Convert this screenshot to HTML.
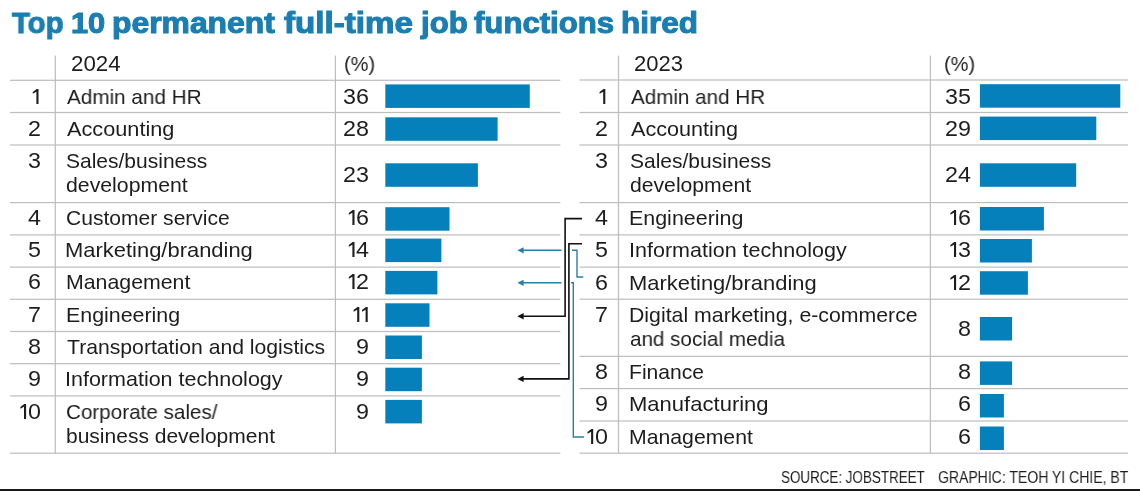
<!DOCTYPE html>
<html><head><meta charset="utf-8"><title>Top 10 permanent full-time job functions hired</title><style>html,body{margin:0;padding:0}body{width:1140px;height:491px;position:relative;overflow:hidden;background:#fff;font-family:"Liberation Sans", sans-serif}
.t{position:absolute;white-space:pre;line-height:1;transform-origin:0 0;will-change:transform}
.h{position:absolute;height:1px;background:#bdbdbd}.v{position:absolute;width:1px;background:#bdbdbd}
.b{position:absolute;height:23.5px;background:#0580ba}
.bot{position:absolute;left:0;top:489px;width:1140px;height:2px;background:#1a1a1a}</style></head><body>

<svg width="1140" height="491" style="position:absolute;left:0;top:0" fill="none">
<rect x="10" y="79.7" width="550.3" height="1.2" fill="#bdbdbd"/>
<rect x="10" y="111.9" width="550.3" height="1.2" fill="#bdbdbd"/>
<rect x="10" y="144.4" width="550.3" height="1.2" fill="#bdbdbd"/>
<rect x="10" y="202.0" width="550.3" height="1.2" fill="#bdbdbd"/>
<rect x="10" y="234.3" width="550.3" height="1.2" fill="#bdbdbd"/>
<rect x="10" y="266.5" width="550.3" height="1.2" fill="#bdbdbd"/>
<rect x="10" y="298.7" width="550.3" height="1.2" fill="#bdbdbd"/>
<rect x="10" y="330.9" width="550.3" height="1.2" fill="#bdbdbd"/>
<rect x="10" y="363.1" width="550.3" height="1.2" fill="#bdbdbd"/>
<rect x="10" y="395.3" width="550.3" height="1.2" fill="#bdbdbd"/>
<rect x="10" y="452.6" width="550.3" height="1.2" fill="#bdbdbd"/>
<rect x="579.5" y="79.4" width="548.5" height="1.2" fill="#bdbdbd"/>
<rect x="579.5" y="111.9" width="548.5" height="1.2" fill="#bdbdbd"/>
<rect x="579.5" y="144.4" width="548.5" height="1.2" fill="#bdbdbd"/>
<rect x="579.5" y="202.0" width="548.5" height="1.2" fill="#bdbdbd"/>
<rect x="579.5" y="234.3" width="548.5" height="1.2" fill="#bdbdbd"/>
<rect x="579.5" y="266.5" width="548.5" height="1.2" fill="#bdbdbd"/>
<rect x="579.5" y="298.6" width="548.5" height="1.2" fill="#bdbdbd"/>
<rect x="579.5" y="355.8" width="548.5" height="1.2" fill="#bdbdbd"/>
<rect x="579.5" y="388.0" width="548.5" height="1.2" fill="#bdbdbd"/>
<rect x="579.5" y="420.4" width="548.5" height="1.2" fill="#bdbdbd"/>
<rect x="579.5" y="452.6" width="548.5" height="1.2" fill="#bdbdbd"/>
<rect x="54.7" y="55.6" width="1.2" height="397.8" fill="#bdbdbd"/>
<rect x="334.8" y="55.6" width="1.2" height="397.8" fill="#bdbdbd"/>
<rect x="617.9" y="55.6" width="1.2" height="397.8" fill="#bdbdbd"/>
<rect x="929.8" y="55.6" width="1.2" height="397.8" fill="#bdbdbd"/>
<rect x="385.3" y="84.4" width="144.5" height="23.5" fill="#0580ba"/>
<rect x="385.3" y="117.3" width="112.3" height="23.5" fill="#0580ba"/>
<rect x="385.3" y="163.3" width="92.6" height="23.5" fill="#0580ba"/>
<rect x="385.3" y="207.2" width="64.2" height="23.5" fill="#0580ba"/>
<rect x="385.3" y="238.6" width="56.1" height="23.5" fill="#0580ba"/>
<rect x="385.3" y="270.9" width="52.1" height="23.5" fill="#0580ba"/>
<rect x="385.3" y="303.3" width="44.2" height="23.5" fill="#0580ba"/>
<rect x="385.3" y="335.5" width="36.6" height="23.5" fill="#0580ba"/>
<rect x="385.3" y="367.7" width="36.6" height="23.5" fill="#0580ba"/>
<rect x="385.3" y="399.9" width="36.6" height="23.5" fill="#0580ba"/>
<rect x="979.9" y="84.2" width="140.4" height="23.5" fill="#0580ba"/>
<rect x="979.9" y="116.6" width="116.4" height="23.5" fill="#0580ba"/>
<rect x="979.9" y="163.3" width="96.3" height="23.5" fill="#0580ba"/>
<rect x="979.9" y="207.0" width="64.0" height="23.5" fill="#0580ba"/>
<rect x="979.9" y="239.0" width="52.0" height="23.5" fill="#0580ba"/>
<rect x="979.9" y="271.2" width="48.0" height="23.5" fill="#0580ba"/>
<rect x="979.9" y="317.0" width="32.2" height="23.5" fill="#0580ba"/>
<rect x="979.9" y="361.4" width="32.2" height="23.5" fill="#0580ba"/>
<rect x="979.9" y="394.0" width="24.0" height="23.5" fill="#0580ba"/>
<rect x="979.9" y="426.5" width="24.0" height="23.5" fill="#0580ba"/>
<path transform="translate(32.8,89)" d="M0,2.9L3.9,0H5.7V15H3.6V2.7L0,4.7Z" fill="#1d1d1d"/>
<path transform="translate(348.8,210)" d="M0,2.9L3.9,0H5.7V15H3.6V2.7L0,4.7Z" fill="#1d1d1d"/>
<path transform="translate(348.8,242)" d="M0,2.9L3.9,0H5.7V15H3.6V2.7L0,4.7Z" fill="#1d1d1d"/>
<path transform="translate(348.8,274)" d="M0,2.9L3.9,0H5.7V15H3.6V2.7L0,4.7Z" fill="#1d1d1d"/>
<path transform="translate(353.6,307)" d="M0,2.9L3.9,0H5.7V15H3.6V2.7L0,4.7Z" fill="#1d1d1d"/>
<path transform="translate(362.0,307)" d="M0,2.9L3.9,0H5.7V15H3.6V2.7L0,4.7Z" fill="#1d1d1d"/>
<path transform="translate(20.4,404)" d="M0,2.9L3.9,0H5.7V15H3.6V2.7L0,4.7Z" fill="#1d1d1d"/>
<path transform="translate(599.6,89)" d="M0,2.9L3.9,0H5.7V15H3.6V2.7L0,4.7Z" fill="#1d1d1d"/>
<path transform="translate(950.4,210)" d="M0,2.9L3.9,0H5.7V15H3.6V2.7L0,4.7Z" fill="#1d1d1d"/>
<path transform="translate(950.4,242)" d="M0,2.9L3.9,0H5.7V15H3.6V2.7L0,4.7Z" fill="#1d1d1d"/>
<path transform="translate(950.4,275)" d="M0,2.9L3.9,0H5.7V15H3.6V2.7L0,4.7Z" fill="#1d1d1d"/>
<path transform="translate(587.5,429)" d="M0,2.9L3.9,0H5.7V15H3.6V2.7L0,4.7Z" fill="#1d1d1d"/>
<g stroke="#111" stroke-width="1.6">
<path d="M582 218.6H565.1V316.2H522"/>
<path d="M582 243.8H568.9V378.9H522"/>
</g>
<g fill="#111"><path d="M517.4 316.2L523.6 313V319.4Z"/><path d="M517.4 378.9L523.6 375.7V382.1Z"/></g>
<g stroke="#2580aa" stroke-width="1.4">
<path d="M583.3 277H577V250.3H572"/>
<path d="M561.4 250.3H522"/>
<path d="M584 437H573.3V282.8H571"/>
<path d="M561.4 282.8H522"/>
</g>
<g fill="#2580aa"><path d="M517.4 250.3L523.6 247.2V253.4Z"/><path d="M517.4 282.8L523.6 279.7V285.9Z"/></g>
</svg>
<span class="t" style="left:11.74px;top:8.00px;font-size:30px;font-weight:bold;color:#1a7eb2;-webkit-text-stroke:1.1px #1a7eb2;transform:scaleX(0.9761)">Top</span>
<span class="t" style="left:70.92px;top:8.00px;font-size:30px;font-weight:bold;color:#1a7eb2;-webkit-text-stroke:1.1px #1a7eb2;transform:scaleX(1.0254)">10</span>
<span class="t" style="left:112.41px;top:8.00px;font-size:30px;font-weight:bold;color:#1a7eb2;-webkit-text-stroke:1.1px #1a7eb2;transform:scaleX(1.0618)">permanent</span>
<span class="t" style="left:284.20px;top:8.00px;font-size:30px;font-weight:bold;color:#1a7eb2;-webkit-text-stroke:1.1px #1a7eb2;transform:scaleX(1.1045)">full-time</span>
<span class="t" style="left:420.84px;top:8.00px;font-size:30px;font-weight:bold;color:#1a7eb2;-webkit-text-stroke:1.1px #1a7eb2;transform:scaleX(1.0387)">job</span>
<span class="t" style="left:473.90px;top:8.00px;font-size:30px;font-weight:bold;color:#1a7eb2;-webkit-text-stroke:1.1px #1a7eb2;transform:scaleX(1.0376)">functions</span>
<span class="t" style="left:620.73px;top:8.00px;font-size:30px;font-weight:bold;color:#1a7eb2;-webkit-text-stroke:1.1px #1a7eb2;transform:scaleX(1.0482)">hired</span>
<span class="t" style="left:70.98px;top:53.00px;font-size:22px;font-weight:normal;color:#1d1d1d;transform:scaleX(1.0159)">2024</span>
<span class="t" style="left:343.51px;top:53.00px;font-size:21px;font-weight:normal;color:#1d1d1d;transform:scaleX(0.9500)">(%)</span>
<span class="t" style="left:633.50px;top:53.00px;font-size:22px;font-weight:normal;color:#1d1d1d;transform:scaleX(1.0000)">2023</span>
<span class="t" style="left:944.01px;top:53.00px;font-size:21px;font-weight:normal;color:#1d1d1d;transform:scaleX(0.9500)">(%)</span>
<span class="t" style="left:67.30px;top:86.00px;font-size:21px;font-weight:normal;color:#1d1d1d;transform:scaleX(0.9852)">Admin and HR</span>
<span class="t" style="left:343.29px;top:86.00px;font-size:22px;font-weight:normal;color:#1d1d1d;transform:scaleX(1.0600)">36</span>
<span class="t" style="left:28.07px;top:118.00px;font-size:22px;font-weight:normal;color:#1d1d1d;transform:scaleX(1.0600)">2</span>
<span class="t" style="left:67.30px;top:118.00px;font-size:21px;font-weight:normal;color:#1d1d1d;transform:scaleX(1.0341)">Accounting</span>
<span class="t" style="left:343.29px;top:118.00px;font-size:22px;font-weight:normal;color:#1d1d1d;transform:scaleX(1.0600)">28</span>
<span class="t" style="left:28.07px;top:150.00px;font-size:22px;font-weight:normal;color:#1d1d1d;transform:scaleX(1.0600)">3</span>
<span class="t" style="left:66.30px;top:150.00px;font-size:21px;font-weight:normal;color:#1d1d1d;transform:scaleX(1.0000)">Sales/business</span>
<span class="t" style="left:66.29px;top:174.00px;font-size:21px;font-weight:normal;color:#1d1d1d;transform:scaleX(1.0126)">development</span>
<span class="t" style="left:343.29px;top:164.00px;font-size:22px;font-weight:normal;color:#1d1d1d;transform:scaleX(1.0600)">23</span>
<span class="t" style="left:27.81px;top:207.00px;font-size:22px;font-weight:normal;color:#1d1d1d;transform:scaleX(1.0600)">4</span>
<span class="t" style="left:66.30px;top:207.00px;font-size:21px;font-weight:normal;color:#1d1d1d;transform:scaleX(1.0025)">Customer service</span>
<span class="t" style="left:356.27px;top:207.00px;font-size:22px;font-weight:normal;color:#1d1d1d;transform:scaleX(1.0600)">6</span>
<span class="t" style="left:28.07px;top:239.00px;font-size:22px;font-weight:normal;color:#1d1d1d;transform:scaleX(1.0600)">5</span>
<span class="t" style="left:65.47px;top:239.00px;font-size:21px;font-weight:normal;color:#1d1d1d;transform:scaleX(1.0448)">Marketing/branding</span>
<span class="t" style="left:356.01px;top:239.00px;font-size:22px;font-weight:normal;color:#1d1d1d;transform:scaleX(1.0600)">4</span>
<span class="t" style="left:28.07px;top:271.00px;font-size:22px;font-weight:normal;color:#1d1d1d;transform:scaleX(1.0600)">6</span>
<span class="t" style="left:65.52px;top:271.00px;font-size:21px;font-weight:normal;color:#1d1d1d;transform:scaleX(1.0145)">Management</span>
<span class="t" style="left:356.27px;top:271.00px;font-size:22px;font-weight:normal;color:#1d1d1d;transform:scaleX(1.0600)">2</span>
<span class="t" style="left:28.07px;top:304.00px;font-size:22px;font-weight:normal;color:#1d1d1d;transform:scaleX(1.0600)">7</span>
<span class="t" style="left:65.52px;top:304.00px;font-size:21px;font-weight:normal;color:#1d1d1d;transform:scaleX(1.0183)">Engineering</span>
<span class="t" style="left:28.07px;top:336.00px;font-size:22px;font-weight:normal;color:#1d1d1d;transform:scaleX(1.0600)">8</span>
<span class="t" style="left:66.80px;top:336.00px;font-size:21px;font-weight:normal;color:#1d1d1d;transform:scaleX(1.0084)">Transportation and logistics</span>
<span class="t" style="left:356.27px;top:336.00px;font-size:22px;font-weight:normal;color:#1d1d1d;transform:scaleX(1.0600)">9</span>
<span class="t" style="left:28.07px;top:368.00px;font-size:22px;font-weight:normal;color:#1d1d1d;transform:scaleX(1.0600)">9</span>
<span class="t" style="left:65.25px;top:368.00px;font-size:21px;font-weight:normal;color:#1d1d1d;transform:scaleX(1.0240)">Information technology</span>
<span class="t" style="left:356.27px;top:368.00px;font-size:22px;font-weight:normal;color:#1d1d1d;transform:scaleX(1.0600)">9</span>
<span class="t" style="left:27.87px;top:401.00px;font-size:22px;font-weight:normal;color:#1d1d1d;transform:scaleX(1.0600)">0</span>
<span class="t" style="left:66.32px;top:401.00px;font-size:21px;font-weight:normal;color:#1d1d1d;transform:scaleX(0.9830)">Corporate sales/</span>
<span class="t" style="left:66.05px;top:425.00px;font-size:21px;font-weight:normal;color:#1d1d1d;transform:scaleX(0.9995)">business development</span>
<span class="t" style="left:356.27px;top:401.00px;font-size:22px;font-weight:normal;color:#1d1d1d;transform:scaleX(1.0600)">9</span>
<span class="t" style="left:631.20px;top:86.00px;font-size:21px;font-weight:normal;color:#1d1d1d;transform:scaleX(0.9815)">Admin and HR</span>
<span class="t" style="left:944.89px;top:86.00px;font-size:22px;font-weight:normal;color:#1d1d1d;transform:scaleX(1.0600)">35</span>
<span class="t" style="left:595.08px;top:118.00px;font-size:22px;font-weight:normal;color:#1d1d1d;transform:scaleX(1.0600)">2</span>
<span class="t" style="left:631.20px;top:118.00px;font-size:21px;font-weight:normal;color:#1d1d1d;transform:scaleX(1.0293)">Accounting</span>
<span class="t" style="left:944.89px;top:118.00px;font-size:22px;font-weight:normal;color:#1d1d1d;transform:scaleX(1.0600)">29</span>
<span class="t" style="left:595.08px;top:150.00px;font-size:22px;font-weight:normal;color:#1d1d1d;transform:scaleX(1.0600)">3</span>
<span class="t" style="left:630.20px;top:150.00px;font-size:21px;font-weight:normal;color:#1d1d1d;transform:scaleX(0.9978)">Sales/business</span>
<span class="t" style="left:630.19px;top:174.00px;font-size:21px;font-weight:normal;color:#1d1d1d;transform:scaleX(1.0076)">development</span>
<span class="t" style="left:944.62px;top:164.00px;font-size:22px;font-weight:normal;color:#1d1d1d;transform:scaleX(1.0600)">24</span>
<span class="t" style="left:594.81px;top:207.00px;font-size:22px;font-weight:normal;color:#1d1d1d;transform:scaleX(1.0600)">4</span>
<span class="t" style="left:629.41px;top:207.00px;font-size:21px;font-weight:normal;color:#1d1d1d;transform:scaleX(1.0202)">Engineering</span>
<span class="t" style="left:957.88px;top:207.00px;font-size:22px;font-weight:normal;color:#1d1d1d;transform:scaleX(1.0600)">6</span>
<span class="t" style="left:595.08px;top:239.00px;font-size:22px;font-weight:normal;color:#1d1d1d;transform:scaleX(1.0600)">5</span>
<span class="t" style="left:629.15px;top:239.00px;font-size:21px;font-weight:normal;color:#1d1d1d;transform:scaleX(1.0245)">Information technology</span>
<span class="t" style="left:957.88px;top:239.00px;font-size:22px;font-weight:normal;color:#1d1d1d;transform:scaleX(1.0600)">3</span>
<span class="t" style="left:595.08px;top:272.00px;font-size:22px;font-weight:normal;color:#1d1d1d;transform:scaleX(1.0600)">6</span>
<span class="t" style="left:629.37px;top:272.00px;font-size:21px;font-weight:normal;color:#1d1d1d;transform:scaleX(1.0442)">Marketing/branding</span>
<span class="t" style="left:957.88px;top:272.00px;font-size:22px;font-weight:normal;color:#1d1d1d;transform:scaleX(1.0600)">2</span>
<span class="t" style="left:595.08px;top:304.00px;font-size:22px;font-weight:normal;color:#1d1d1d;transform:scaleX(1.0600)">7</span>
<span class="t" style="left:629.43px;top:304.00px;font-size:21px;font-weight:normal;color:#1d1d1d;transform:scaleX(1.0138)">Digital marketing, e-commerce</span>
<span class="t" style="left:630.22px;top:328.00px;font-size:21px;font-weight:normal;color:#1d1d1d;transform:scaleX(0.9834)">and social media</span>
<span class="t" style="left:957.88px;top:318.00px;font-size:22px;font-weight:normal;color:#1d1d1d;transform:scaleX(1.0600)">8</span>
<span class="t" style="left:595.08px;top:361.00px;font-size:22px;font-weight:normal;color:#1d1d1d;transform:scaleX(1.0600)">8</span>
<span class="t" style="left:629.44px;top:361.00px;font-size:21px;font-weight:normal;color:#1d1d1d;transform:scaleX(1.0042)">Finance</span>
<span class="t" style="left:957.88px;top:361.00px;font-size:22px;font-weight:normal;color:#1d1d1d;transform:scaleX(1.0600)">8</span>
<span class="t" style="left:595.08px;top:393.00px;font-size:22px;font-weight:normal;color:#1d1d1d;transform:scaleX(1.0600)">9</span>
<span class="t" style="left:629.36px;top:393.00px;font-size:21px;font-weight:normal;color:#1d1d1d;transform:scaleX(1.0492)">Manufacturing</span>
<span class="t" style="left:957.88px;top:393.00px;font-size:22px;font-weight:normal;color:#1d1d1d;transform:scaleX(1.0600)">6</span>
<span class="t" style="left:594.88px;top:426.00px;font-size:22px;font-weight:normal;color:#1d1d1d;transform:scaleX(1.0600)">0</span>
<span class="t" style="left:629.43px;top:426.00px;font-size:21px;font-weight:normal;color:#1d1d1d;transform:scaleX(1.0104)">Management</span>
<span class="t" style="left:957.88px;top:426.00px;font-size:22px;font-weight:normal;color:#1d1d1d;transform:scaleX(1.0600)">6</span>
<span class="t" style="left:780.77px;top:470.00px;font-size:16px;font-weight:normal;color:#1d1d1d;transform:scaleX(0.8375)">SOURCE: JOBSTREET</span>
<span class="t" style="left:938.14px;top:470.00px;font-size:16px;font-weight:normal;color:#1d1d1d;transform:scaleX(0.8759)">GRAPHIC: TEOH YI CHIE, BT</span>
<div class="bot"></div>
</body></html>
